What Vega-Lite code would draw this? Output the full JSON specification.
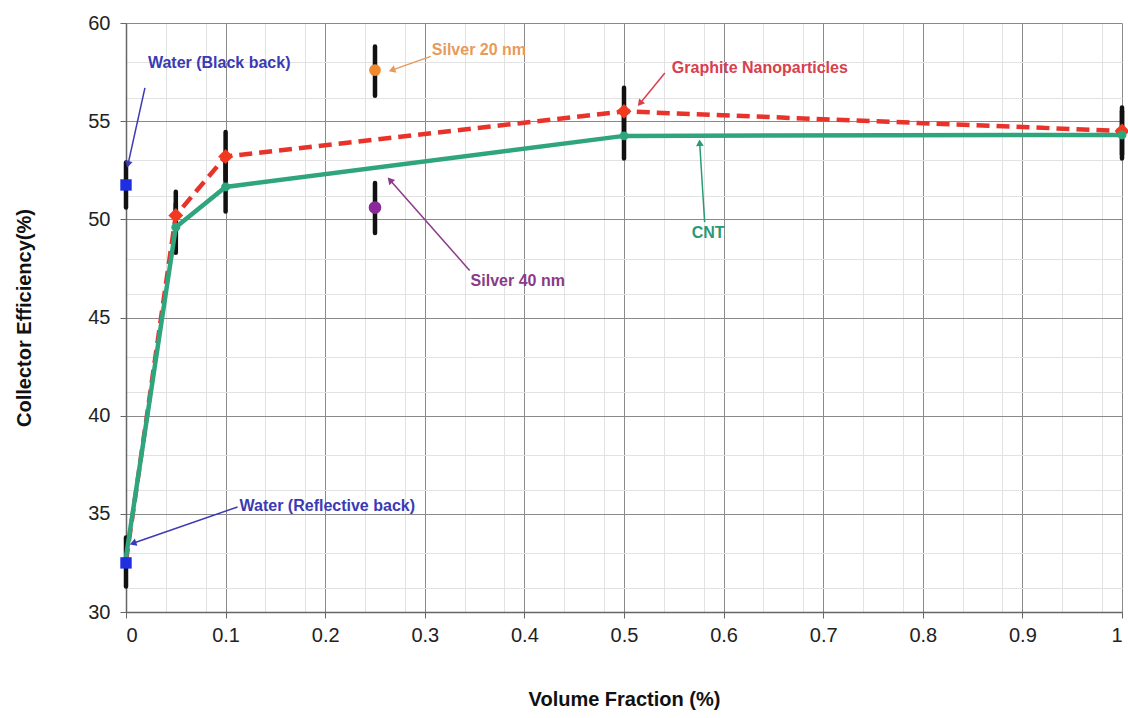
{
  "$schema": "https://vega.github.io/schema/vega-lite/v6.json",
  "width": 996,
  "height": 589,
  "autosize": {"type": "none"},
  "padding": {"left": 126, "top": 23, "right": 6, "bottom": 106},
  "background": "white",
  "config": {
    "font": "Liberation Sans",
    "view": {"stroke": null},
    "axis": {"labelFont": "Liberation Sans", "titleFont": "Liberation Sans"}
  },
  "datasets": {
    "pts": [
      {"series": "Graphite Nanoparticles", "x": 0, "y": 32.6, "lo": null, "hi": null},
      {"series": "Graphite Nanoparticles", "x": 0.05, "y": 50.2, "lo": 49.0, "hi": 51.4},
      {"series": "Graphite Nanoparticles", "x": 0.1, "y": 53.2, "lo": 52.0, "hi": 54.45},
      {"series": "Graphite Nanoparticles", "x": 0.5, "y": 55.5, "lo": 54.3, "hi": 56.7},
      {"series": "Graphite Nanoparticles", "x": 1, "y": 54.5, "lo": 53.3, "hi": 55.7},
      {"series": "CNT", "x": 0, "y": 32.8, "lo": null, "hi": null},
      {"series": "CNT", "x": 0.05, "y": 49.6, "lo": 48.3, "hi": 50.8},
      {"series": "CNT", "x": 0.1, "y": 51.65, "lo": 50.4, "hi": 52.9},
      {"series": "CNT", "x": 0.5, "y": 54.25, "lo": 53.1, "hi": 55.4},
      {"series": "CNT", "x": 1, "y": 54.3, "lo": 53.1, "hi": 55.5},
      {"series": "Water (Black back)", "x": 0, "y": 51.75, "lo": 50.6, "hi": 52.9},
      {"series": "Water (Reflective back)", "x": 0, "y": 32.5, "lo": 31.3, "hi": 33.8},
      {"series": "Silver 20 nm", "x": 0.25, "y": 57.6, "lo": 56.3, "hi": 58.8},
      {"series": "Silver 40 nm", "x": 0.25, "y": 50.6, "lo": 49.3, "hi": 51.85}
    ],
    "ann": [
      {"label": "Water (Black back)", "tx": 0.022, "ty": 57.95, "x": 0.019, "y": 56.7, "x2": 0.002, "y2": 52.8},
      {"label": "Silver 20 nm", "tx": 0.307, "ty": 58.65, "x": 0.306, "y": 58.3, "x2": 0.267, "y2": 57.6},
      {"label": "Graphite Nanoparticles", "tx": 0.548, "ty": 57.7, "x": 0.541, "y": 57.45, "x2": 0.516, "y2": 55.9},
      {"label": "CNT", "tx": 0.568, "ty": 49.3, "x": 0.581, "y": 49.86, "x2": 0.576, "y2": 53.9},
      {"label": "Silver 40 nm", "tx": 0.346, "ty": 46.85, "x": 0.345, "y": 47.4, "x2": 0.265, "y2": 52.0},
      {"label": "Water (Reflective back)", "tx": 0.114, "ty": 35.4, "x": 0.112, "y": 35.35, "x2": 0.007, "y2": 33.5}
    ]
  },
  "resolve": {"axis": {"x": "independent", "y": "independent"}, "scale": {"color": "independent"}},
  "layer": [
    {
      "data": {"name": "pts"},
      "mark": {"type": "point", "opacity": 0},
      "encoding": {
        "x": {"field": "x", "type": "quantitative", "scale": {"domain": [0, 1], "nice": false, "zero": false},
          "axis": {"orient": "top", "grid": true, "gridColor": "#e2e2e2", "gridWidth": 1, "labels": false, "ticks": false, "domain": false, "title": null,
            "values": [0.04, 0.08, 0.14, 0.18, 0.24, 0.28, 0.34, 0.38, 0.44, 0.48, 0.54, 0.58, 0.64, 0.68, 0.74, 0.78, 0.84, 0.88, 0.94, 0.98]}},
        "y": {"field": "y", "type": "quantitative", "scale": {"domain": [30, 60], "nice": false, "zero": false},
          "axis": {"orient": "right", "grid": true, "gridColor": "#e2e2e2", "gridWidth": 1, "labels": false, "ticks": false, "domain": false, "title": null,
            "values": [31.2, 33, 36.2, 38, 41.2, 43, 46.2, 48, 51.2, 53, 56.2, 58]}}
      }
    },
    {
      "data": {"name": "pts"},
      "transform": [{"filter": "datum.lo != null"}],
      "mark": {"type": "rule", "color": "#111111", "strokeWidth": 4.5, "strokeCap": "round"},
      "encoding": {
        "x": {"field": "x", "type": "quantitative",
          "axis": {"orient": "bottom", "values": [0, 0.1, 0.2, 0.3, 0.4, 0.5, 0.6, 0.7, 0.8, 0.9, 1], "format": "~g",
            "grid": true, "gridColor": "#8a8a8a", "gridWidth": 1, "domainColor": "#666666", "domainWidth": 1.5, "tickColor": "#666666", "tickSize": 6,
            "labelFontSize": 20, "labelColor": "#222222", "labelPadding": 7,
            "title": "Volume Fraction (%)", "titleFontSize": 20, "titleFontWeight": "bold", "titleColor": "#111111", "titlePadding": 44}},
        "y": {"field": "lo", "type": "quantitative",
          "axis": {"orient": "left", "values": [30, 35, 40, 45, 50, 55, 60],
            "grid": true, "gridColor": "#8a8a8a", "gridWidth": 1, "domainColor": "#666666", "domainWidth": 1.5, "tickColor": "#666666", "tickSize": 6,
            "labelFontSize": 20, "labelColor": "#222222", "labelPadding": 10,
            "title": "Collector Efficiency(%)", "titleFontSize": 20, "titleFontWeight": "bold", "titleColor": "#111111", "titlePadding": 53}},
        "y2": {"field": "hi"}
      }
    },
    {
      "data": {"name": "pts"},
      "transform": [{"filter": "datum.series == 'Graphite Nanoparticles'"}],
      "mark": {"type": "line", "color": "#e8322a", "strokeWidth": 4.5, "strokeDash": [13, 7]},
      "encoding": {
        "x": {"field": "x", "type": "quantitative", "axis": null},
        "y": {"field": "y", "type": "quantitative", "axis": null}
      }
    },
    {
      "data": {"name": "pts"},
      "transform": [{"filter": "datum.series == 'CNT'"}],
      "mark": {"type": "line", "color": "#2fa57e", "strokeWidth": 4.5},
      "encoding": {
        "x": {"field": "x", "type": "quantitative", "axis": null},
        "y": {"field": "y", "type": "quantitative", "axis": null}
      }
    },
    {
      "data": {"name": "pts"},
      "transform": [{"filter": "datum.x > 0 || datum.series == 'Water (Black back)' || datum.series == 'Water (Reflective back)'"}],
      "mark": {"type": "point", "filled": true, "opacity": 1},
      "encoding": {
        "x": {"field": "x", "type": "quantitative", "axis": null},
        "y": {"field": "y", "type": "quantitative", "axis": null},
        "color": {"field": "series", "type": "nominal", "legend": null,
          "scale": {"domain": ["Graphite Nanoparticles", "CNT", "Water (Black back)", "Water (Reflective back)", "Silver 20 nm", "Silver 40 nm"],
            "range": ["#f03a20", "#2fa57e", "#1f2ee0", "#1f2ee0", "#f08a30", "#8a2a9a"]}},
        "shape": {"field": "series", "type": "nominal", "legend": null,
          "scale": {"domain": ["Graphite Nanoparticles", "CNT", "Water (Black back)", "Water (Reflective back)", "Silver 20 nm", "Silver 40 nm"],
            "range": ["diamond", "circle", "square", "square", "circle", "circle"]}},
        "size": {"field": "series", "type": "nominal", "legend": null,
          "scale": {"type": "ordinal", "domain": ["Graphite Nanoparticles", "CNT", "Water (Black back)", "Water (Reflective back)", "Silver 20 nm", "Silver 40 nm"],
            "range": [220, 80, 130, 130, 140, 160]}}
      }
    },
    {
      "data": {"name": "ann"},
      "mark": {"type": "rule", "strokeWidth": 1.5},
      "encoding": {
        "x": {"field": "x", "type": "quantitative", "axis": null},
        "y": {"field": "y", "type": "quantitative", "axis": null},
        "x2": {"field": "x2"},
        "y2": {"field": "y2"},
        "color": {"field": "label", "type": "nominal", "legend": null,
          "scale": {"domain": ["Water (Black back)", "Silver 20 nm", "Graphite Nanoparticles", "CNT", "Silver 40 nm", "Water (Reflective back)"],
            "range": ["#3a3ab5", "#e89a5a", "#d8404e", "#2a9a76", "#8a3a8a", "#3a3ab5"]}}
      }
    },
    {
      "data": {"name": "ann"},
      "transform": [{"calculate": "atan2((datum.x2 - datum.x) * 996, (datum.y2 - datum.y) * 19.63) * 180 / PI", "as": "ang"}],
      "mark": {"type": "point", "shape": "triangle-up", "filled": true, "size": 60, "opacity": 1},
      "encoding": {
        "x": {"field": "x2", "type": "quantitative", "axis": null},
        "y": {"field": "y2", "type": "quantitative", "axis": null},
        "angle": {"field": "ang", "type": "quantitative", "scale": null},
        "color": {"field": "label", "type": "nominal", "legend": null,
          "scale": {"domain": ["Water (Black back)", "Silver 20 nm", "Graphite Nanoparticles", "CNT", "Silver 40 nm", "Water (Reflective back)"],
            "range": ["#3a3ab5", "#e89a5a", "#d8404e", "#2a9a76", "#8a3a8a", "#3a3ab5"]}}
      }
    },
    {
      "data": {"name": "ann"},
      "mark": {"type": "text", "align": "left", "baseline": "middle", "fontSize": 16, "fontWeight": "bold", "font": "Liberation Sans"},
      "encoding": {
        "x": {"field": "tx", "type": "quantitative", "axis": null},
        "y": {"field": "ty", "type": "quantitative", "axis": null},
        "text": {"field": "label"},
        "color": {"field": "label", "type": "nominal", "legend": null,
          "scale": {"domain": ["Water (Black back)", "Silver 20 nm", "Graphite Nanoparticles", "CNT", "Silver 40 nm", "Water (Reflective back)"],
            "range": ["#3a3ab5", "#e89a5a", "#d8404e", "#2a9a76", "#8a3a8a", "#3a3ab5"]}}
      }
    }
  ]
}
